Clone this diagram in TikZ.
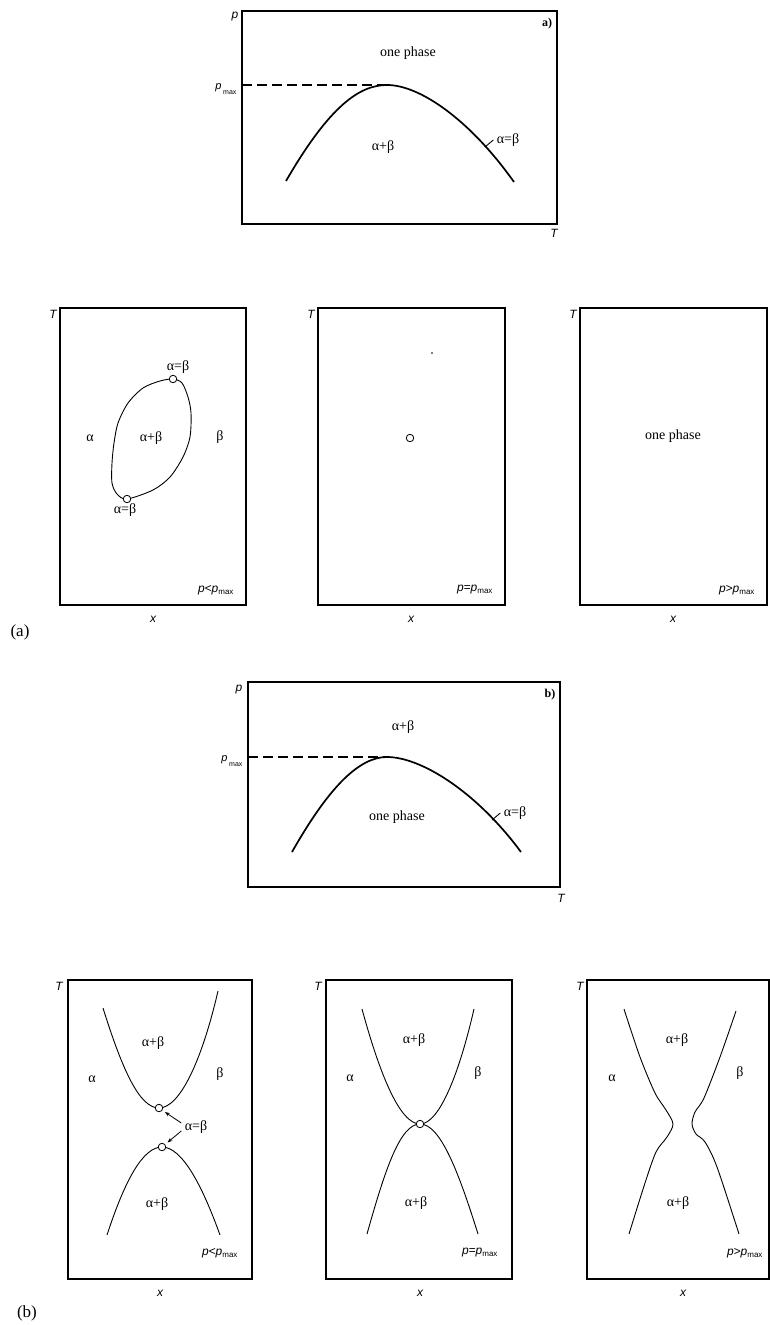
\documentclass[tikz,border=0pt]{standalone}
\usepackage{fontspec}
\setmainfont{Liberation Serif}
\setsansfont{Liberation Sans}
\usetikzlibrary{arrows.meta}
\newcommand{\pmx}{p\textsubscript{\upshape max}}
\newcommand{\pmxaxis}{p\,\raisebox{-5pt}{\fontsize{7}{8}\selectfont\upshape max}}
\tikzset{
	frame/.style={draw, line width=1.2pt},
	bigcurve/.style={line width=1.7pt},
	thincurve/.style={line width=0.9pt},
	region/.style={font=\fontsize{14}{16}\selectfont},
	axlabel/.style={font=\fontsize{12}{14}\selectfont\sffamily\itshape},
	tag/.style={font=\fontsize{12}{13}\selectfont\bfseries},
	partlabel/.style={font=\fontsize{17}{19}\selectfont},
	crit/.style={circle, draw, fill=white, line width=0.8pt, inner sep=0pt, minimum size=7.5pt},
}
\begin{document}
\begin{tikzpicture}[x=1pt, y=-1pt]
	\useasboundingbox (0,0) rectangle (769,1325);

	% ---- a) p-T diagram
	\draw[frame] (242,11) rectangle (557,224);
	\node[axlabel] (pa) at (235,17) {p};
	\node[axlabel] (Ta) at (554,233) {T};
	\node[tag] (taga) at (547,24) {a)};
	\node[axlabel, font=\fontsize{11}{12}\selectfont\sffamily\itshape, anchor=east] (pmaxa) at (240,89) {\pmxaxis};
	\coordinate (topa) at (387,85);
	\draw[dashed, dash pattern=on 10pt off 5pt, line width=1.1pt] (242,85) -- (topa);
	\draw[bigcurve] (286,181) .. controls (330,105) and (360,85) .. (topa)
		.. controls (420,85) and (470,120) .. (514,182);
	\node[region] (onea) at (408,53) {one phase};
	\node[region] (twoa) at (383,147) {α+β};
	\node[region] (eqa) at (508,140) {α=β};
	\coordinate (eqafoot) at (485,147);
	\draw[line width=0.9pt] (eqa.west) -- (eqafoot);

	% ---- a) T-x sections
	\draw[frame] (60,308) rectangle (246,605);
	\draw[frame] (318,308) rectangle (505,605);
	\draw[frame] (580,308) rectangle (767,605);
	\foreach \xl/\xx/\nm in {53/153/1, 311/411/2, 573/673/3} {
		\node[axlabel] (Ta\nm) at (\xl,314) {T};
		\node[axlabel] (xa\nm) at (\xx,619) {x};
	}
	\draw[thincurve] plot[smooth cycle] coordinates {(173,379) (182,383) (188,397) (191,413) (190,437)
		(183,457) (170,477) (153,490) (127,499) (117,494) (112,483) (112,463) (114,443) (118,423)
		(128,403) (143,388) (160,381)};
	\node[crit] (ca1) at (173,379) {};
	\node[crit] (ca2) at (127,499) {};
	\node[region] at (178,367) {α=β};
	\node[region] at (125,510) {α=β};
	\node[region] (al1) at (90,438) {α};
	\node[region] (ab1) at (151,438) {α+β};
	\node[region] (be1) at (220,437) {β};
	\node[axlabel] (pl1) at (216,590) {p<\pmx};

	\node[crit] (ca3) at (410,438) {};
	\fill (432,353) circle (0.9);
	\node[axlabel] (pl2) at (475,590) {p=\pmx};

	\node[region] (one3) at (673,436) {one phase};
	\node[axlabel] (pl3) at (737,590) {p>\pmx};

	\node[partlabel] (parta) at (20,632) {(a)};

	% ---- b) p-T diagram
	\draw[frame] (248,682) rectangle (560,887);
	\node[axlabel] (pb) at (239,690) {p};
	\node[axlabel] (Tb) at (561,898) {T};
	\node[tag] (tagb) at (550,695) {b)};
	\node[axlabel, font=\fontsize{11}{12}\selectfont\sffamily\itshape, anchor=east] (pmaxb) at (246,761) {\pmxaxis};
	\coordinate (topb) at (387,757);
	\draw[dashed, dash pattern=on 10pt off 5pt, line width=1.1pt] (248,757) -- (topb);
	\draw[bigcurve] (292,852) .. controls (330,785) and (360,757) .. (topb)
		.. controls (420,757) and (475,790) .. (521,852);
	\node[region] (twob) at (403,727) {α+β};
	\node[region] (oneb) at (397,817) {one phase};
	\node[region] (eqb) at (515,813) {α=β};
	\coordinate (eqbfoot) at (492,820);
	\draw[line width=0.9pt] (eqb.west) -- (eqbfoot);

	% ---- b) T-x sections
	\draw[frame] (68,980) rectangle (252,1279);
	\draw[frame] (326,980) rectangle (512,1279);
	\draw[frame] (587,980) rectangle (769,1279);
	\foreach \xl/\xx/\nm in {59/160/1, 318/420/2, 580/683/3} {
		\node[axlabel] (Tb\nm) at (\xl,986) {T};
		\node[axlabel] (xb\nm) at (\xx,1293) {x};
	}
	% p < pmax
	\draw[thincurve] (103,1008) .. controls (123,1072) and (140,1108) .. (159,1108)
		.. controls (180,1108) and (202,1060) .. (218,991);
	\draw[thincurve] (107,1235) .. controls (125,1180) and (143,1147) .. (162,1147)
		.. controls (182,1147) and (202,1185) .. (220,1235);
	\node[crit] (cb1) at (159,1108) {};
	\node[crit] (cb2) at (162,1147) {};
	\node[region] (eqb1) at (196,1127) {α=β};
	\draw[-{Stealth[length=5pt]}, line width=0.8pt, shorten >=3pt] ([yshift=4pt]eqb1.west) -- (cb1);
	\draw[-{Stealth[length=5pt]}, line width=0.8pt, shorten >=3pt] ([yshift=-4pt]eqb1.west) -- (cb2);
	\node[region] at (153,1043) {α+β};
	\node[region] at (157,1204) {α+β};
	\node[region] at (92,1079) {α};
	\node[region] at (220,1074) {β};
	\node[axlabel] at (220,1253) {p<\pmx};

	% p = pmax
	\draw[thincurve] (362,1009) .. controls (380,1075) and (400,1124) .. (420,1124)
		.. controls (440,1124) and (460,1070) .. (474,1009);
	\draw[thincurve] (367,1234) .. controls (385,1170) and (400,1124) .. (420,1124)
		.. controls (440,1124) and (458,1170) .. (478,1234);
	\node[crit] (cb3) at (420,1124) {};
	\node[region] at (414,1040) {α+β};
	\node[region] at (416,1203) {α+β};
	\node[region] at (350,1078) {α};
	\node[region] at (478,1073) {β};
	\node[axlabel] at (480,1253) {p=\pmx};

	% p > pmax
	\draw[thincurve] plot[smooth] coordinates {(624,1009) (640,1057) (655,1093) (666,1110) (673,1124)
		(667,1137) (656,1152) (645,1183) (629,1234)};
	\draw[thincurve] plot[smooth] coordinates {(736,1011) (720,1057) (704,1098) (695,1112) (692,1124)
		(696,1134) (705,1142) (717,1167) (739,1234)};
	\node[region] at (677,1040) {α+β};
	\node[region] at (678,1203) {α+β};
	\node[region] at (612,1078) {α};
	\node[region] at (740,1073) {β};
	\node[axlabel] at (745,1253) {p>\pmx};

	\node[partlabel] (partb) at (27,1313) {(b)};
\end{tikzpicture}
\end{document}
